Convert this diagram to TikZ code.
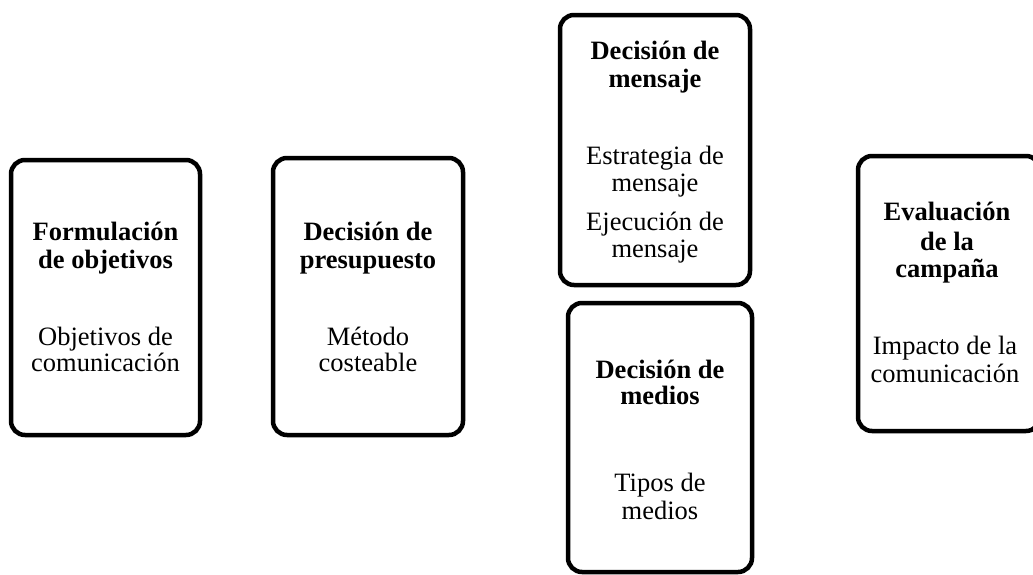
\documentclass[tikz,border=0pt]{standalone}
\usepackage{fontspec}
\setmainfont{Liberation Serif}
\begin{document}
\begin{tikzpicture}[x=1pt,y=-1pt,
  card/.style={draw=black,line width=4.5pt,rounded corners=14pt,fill=none},
  ttl/.style={anchor=base,inner sep=0pt,font=\fontsize{26.5}{28}\selectfont\bfseries},
  txt/.style={anchor=base,inner sep=0pt,font=\fontsize{26.5}{28}\selectfont}]
\useasboundingbox (0,0) rectangle (1033,574);
% boxes
\draw[card] (11,160) rectangle (200,435);
\draw[card] (273,158) rectangle (463,435);
\draw[card] (560,15) rectangle (750,285);
\draw[card] (568,303) rectangle (752,572);
\draw[card] (858,156) rectangle (1040,431);
% box 1
\node[ttl] (t1a) at (105.5,240) {Formulación};
\node[ttl] (t1b) at (105.5,268) {de objetivos};
\node[txt] (s1a) at (105.5,345) {Objetivos de};
\node[txt] (s1b) at (105.5,371) {comunicación};
% box 2
\node[ttl] (t2a) at (368,240) {Decisión de};
\node[ttl] (t2b) at (368,268) {presupuesto};
\node[txt] (s2a) at (368,345) {Método};
\node[txt] (s2b) at (368,371) {costeable};
% box 3
\node[ttl] (t3a) at (655,59) {Decisión de};
\node[ttl] (t3b) at (655,87) {mensaje};
\node[txt] (s3a) at (655,164) {Estrategia de};
\node[txt] (s3b) at (655,191) {mensaje};
\node[txt] (s3c) at (655,230) {Ejecución de};
\node[txt] (s3d) at (655,257) {mensaje};
% box 4
\node[ttl] (t4a) at (660,378) {Decisión de};
\node[ttl] (t4b) at (660,404) {medios};
\node[txt] (s4a) at (660,491) {Tipos de};
\node[txt] (s4b) at (660,519) {medios};
% box 5
\node[ttl] (t5a) at (947,220) {Evaluación};
\node[ttl] (t5b) at (947,250) {de la};
\node[ttl] (t5c) at (947,277) {campaña};
\node[txt] (s5a) at (945,354) {Impacto de la};
\node[txt] (s5b) at (945,382) {comunicación};
\end{tikzpicture}
\end{document}
